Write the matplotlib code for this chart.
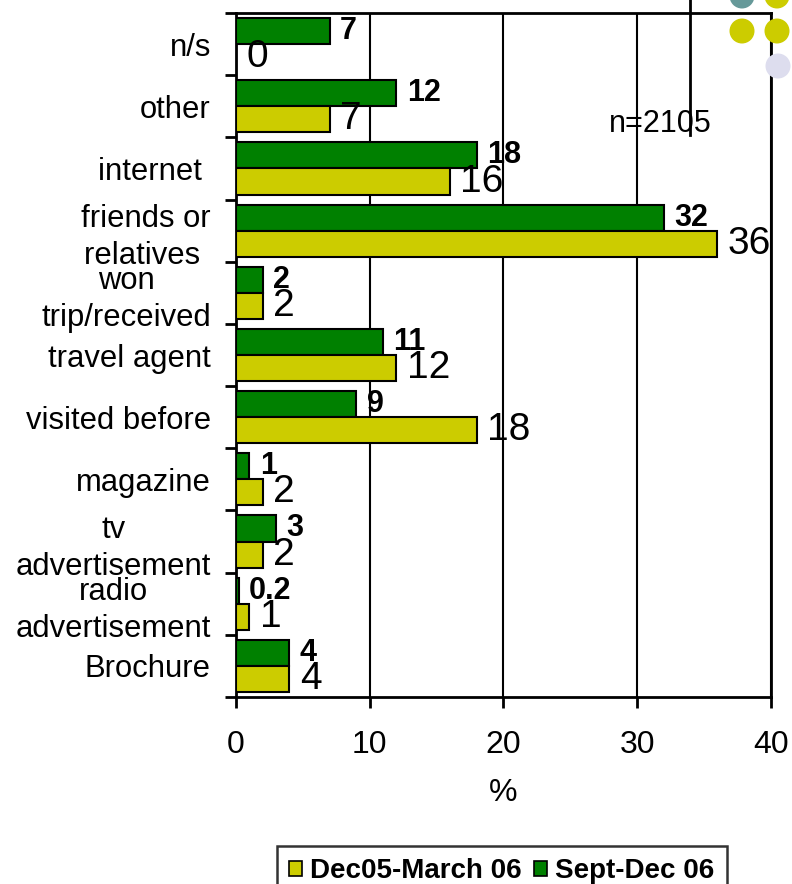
import matplotlib
matplotlib.use("Agg")
import matplotlib.pyplot as plt
from matplotlib.patches import Patch, Circle
from matplotlib.lines import Line2D
from matplotlib.transforms import offset_copy
import numpy as np

plt.rcParams['font.family'] = ['Liberation Sans', 'DejaVu Sans']

categories = ["n/s", "other", "internet ", "friends or\nrelatives ", "won\ntrip/received",
              "travel agent", "visited before", "magazine", "tv\nadvertisement",
              "radio\nadvertisement", "Brochure"]
sept_dec_06 = [7, 12, 18, 32, 2, 11, 9, 1, 3, 0.2, 4]
dec05_mar06 = [0, 7, 16, 36, 2, 12, 18, 2, 2, 1, 4]
sept_labels = ["7", "12", "18", "32", "2", "11", "9", "1", "3", "0.2", "4"]
dec_labels = ["0", "7", "16", "36", "2", "12", "18", "2", "2", "1", "4"]
series_names = ["Dec05-March 06", "Sept-Dec 06"]
xticks = [0, 10, 20, 30, 40]

GREEN = "#008000"
YELLOW = "#CCCC00"

W, H = 792, 884
fig = plt.figure(figsize=(W/100, H/100), dpi=100)
ax = fig.add_axes([236/W, 1-697/H, 535/W, 684/H])

n = len(categories)
y = np.arange(n)
bh = 0.42
ax.barh(y - bh/2, sept_dec_06, height=bh, color=GREEN, edgecolor="black", linewidth=1.5, zorder=3)
ax.barh(y + bh/2, dec05_mar06, height=bh, color=YELLOW, edgecolor="black", linewidth=1.5, zorder=3)

ax.set_xlim(0, 40)
ax.set_ylim(n - 0.5, -0.5)

tg = offset_copy(ax.transData, fig=fig, x=7.5, y=0, units='points')
for i in range(n):
    ax.text(sept_dec_06[i], y[i] - bh/2, sept_labels[i], transform=tg, fontsize=22,
            fontweight='bold', va='center', ha='left', zorder=4)
    ax.text(dec05_mar06[i], y[i] + bh/2, dec_labels[i], transform=tg, fontsize=28,
            va='center', ha='left', zorder=4)

# grid
for xv in xticks[1:]:
    ax.axvline(xv, color="black", linewidth=1.5, zorder=1)

for s in ax.spines.values():
    s.set_linewidth(2)
    s.set_color("black")

ax.set_xticks(xticks)
ax.set_xticklabels([str(v) for v in xticks], fontsize=23)
ax.tick_params(axis='x', direction='out', length=8, width=2, pad=16)

ax.set_yticks(np.arange(n + 1) - 0.5)
ax.set_yticklabels([])
ax.tick_params(axis='y', which='major', direction='out', length=8, width=2)
ax.set_yticks(y, minor=True)
ax.set_yticklabels(categories, minor=True, fontsize=22.3)
ax.tick_params(axis='y', which='minor', length=0, pad=18)
for lbl in ax.get_yticklabels(minor=True):
    lbl.set_multialignment('center')
    lbl.set_linespacing(1.3)

ax.set_xlabel("%", fontsize=23, labelpad=13)

# legend
handles = [Patch(facecolor=YELLOW, edgecolor="black", linewidth=1.2),
           Patch(facecolor=GREEN, edgecolor="black", linewidth=1.2)]
leg = fig.legend(handles, series_names, loc='upper center', bbox_to_anchor=(502/W, 1-846/H),
                 ncol=2, frameon=True, fancybox=False, prop={'weight': 'bold', 'size': 20},
                 handlelength=0.45, handleheight=0.45, handletextpad=0.3, columnspacing=0.45,
                 borderpad=0.45, borderaxespad=0)
leg.get_frame().set_edgecolor("black")
leg.get_frame().set_linewidth(1.8)

# n label and decorations
fig.text(660/W, 1-124/H, "n=2105", fontsize=22, ha='center', va='center')
fig.add_artist(Line2D([690/W, 690/W], [1, 1-135/H], color="black", linewidth=2,
                      transform=fig.transFigure))
r = 12.5
for (cx, cy, c) in [(742, -4, "#669999"), (777, -4, YELLOW), (742, 31, YELLOW),
                    (777, 31, YELLOW), (778, 66, "#DDDDEE")]:
    fig.add_artist(Circle((cx, H - cy), r, transform=None, facecolor=c, edgecolor='none'))

fig.savefig("out.png", dpi=100)
